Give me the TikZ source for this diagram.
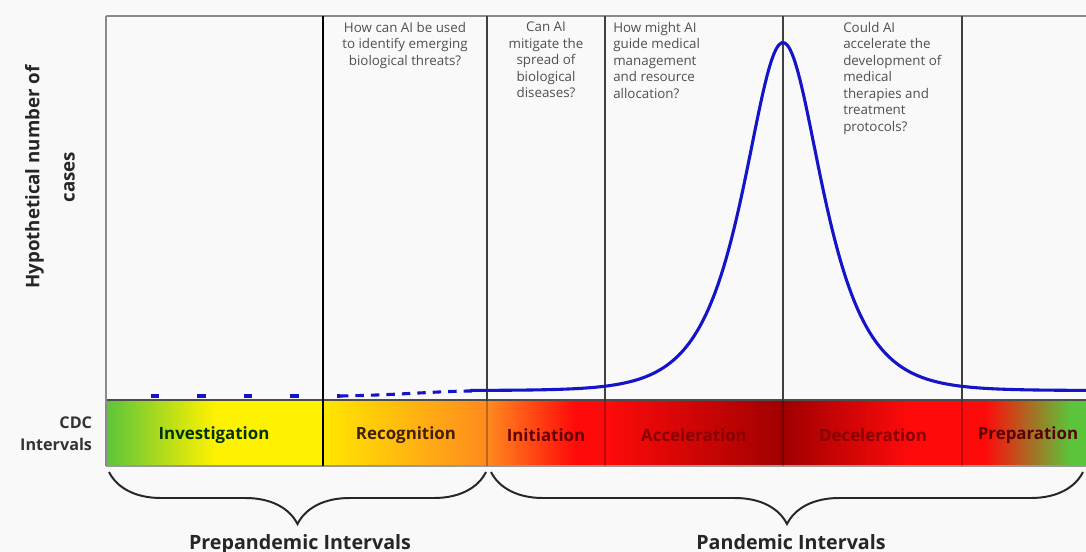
\documentclass[tikz,border=0pt]{standalone}
\usepackage{fontspec}
\setmainfont{Open Sans}
\usetikzlibrary{decorations.pathreplacing}
\definecolor{paper}{HTML}{F9F9F9}
\definecolor{cgreen}{HTML}{5CC43A}
\definecolor{cyellow}{HTML}{FFF200}
\definecolor{corange}{HTML}{FF8A1E}
\definecolor{cred}{HTML}{FF0A0A}
\definecolor{cdark}{HTML}{A00000}
\definecolor{cblue}{HTML}{1414C8}
\definecolor{qgray}{HTML}{505050}
\definecolor{bordergray}{HTML}{8A8A8A}
\tikzset{qtext/.style = {font=\fontsize{9.5}{11.7}\selectfont, text=qgray, inner sep=0}}
\tikzset{bartext/.style = {font=\fontsize{12}{14}\selectfont\bfseries, inner sep=0}}
\tikzset{divider/.style = {line width=1.4pt, draw=black!75}}
\tikzset{curve/.style = {line width=2.2pt, draw=cblue}}
\tikzset{brc/.style = {decorate, decoration={brace, mirror, amplitude=1.3cm},
                       line width=1.4pt, draw=black!85}}
\tikzset{intlabel/.style = {anchor=base, text=black!85, font=\fontsize{14}{16}\selectfont\bfseries}}

\begin{document}
\begin{tikzpicture}[x=0.025cm, y=-0.025cm]
      \useasboundingbox [fill=paper] (0, 0) rectangle (1086, 552);

      \shade [left color=cgreen, right color=cyellow] (106, 400) rectangle (215, 466);
      \fill [cyellow] (215, 400) rectangle (323, 466);
      \shade [left color=cyellow!90!orange, right color=corange] (323, 400) rectangle (487, 466);
      \shade [left color=corange, right color=cred] (487, 400) rectangle (575, 466);
      \fill [cred] (575, 400) rectangle (605, 466);
      \shade [left color=cred, right color=cdark] (605, 400) rectangle (783, 466);
      \shade [left color=cdark, right color=cred] (783, 400) rectangle (910, 466);
      \fill [cred] (910, 400) rectangle (985, 466);
      \shade [left color=cred, right color=cgreen] (985, 400) rectangle (1070, 466);
      \fill [cgreen] (1070, 400) rectangle (1086, 466);

      \draw [black!70, line width=0.8pt] (106, 400) -- (1086, 400);
      \draw [black!40, line width=0.8pt] (106, 466) -- (1086, 466);
      \draw [bordergray, line width=1.5pt] (106, 16) -- (1086, 16);
      \draw [bordergray, line width=1.5pt] (106, 16) -- (106, 466);

      \draw [divider, draw=black] (323, 16) -- (323, 466);
      \draw [divider] (487, 16) -- (487, 400);
      \draw [divider] (605, 16) -- (605, 400);
      \draw [divider] (783, 16) -- (783, 400);
      \draw [divider] (962, 16) -- (962, 400);
      \draw [black, opacity=0.25, line width=0.8pt] (487, 400) -- (487, 466);
      \draw [black, opacity=0.25, line width=0.8pt] (605, 400) -- (605, 466);
      \draw [black, opacity=0.25, line width=0.8pt] (783, 400) -- (783, 466);
      \draw [black, opacity=0.25, line width=0.8pt] (962, 400) -- (962, 466);

      \draw [curve, dash pattern=on 6pt off 27pt] (151, 396) -- (340, 396);
      \draw [curve, dash pattern=on 6pt off 5pt] (340, 396) .. controls (400, 395) and (440, 391) .. (472, 391);
      \draw [curve] plot [domain=470:1086, samples=240, smooth] (\x, {390.5 - 348/cosh((\x-783)/35)});

      \node [qtext, anchor=north, align=center] (qthreat) at (405, 22) {How can AI be used\\to identify emerging\\biological threats?};
      \node [qtext, anchor=north, align=center] (qspread) at (546, 22) {Can AI\\mitigate the\\spread of\\biological\\diseases?};
      \node [qtext, anchor=north west, align=left] (qmanage) at (613, 22) {How might AI\\guide medical\\management\\and resource\\allocation?};
      \node [qtext, anchor=north west, align=left] (qtherapy) at (843, 22) {Could AI\\accelerate the\\development of\\medical\\therapies and\\treatment\\protocols?};

      \node [rotate=90, align=center, text=black!85, font=\fontsize{13.3}{25}\selectfont\bfseries] (ylabel) at (50, 177) {Hypothetical number of\\cases};
      \node [anchor=east, align=right, text=black!80, font=\fontsize{11.5}{15.5}\selectfont\bfseries] (cdc) at (97, 434) {CDC\\Intervals};

      \node [bartext, text=black!80!green] (investigation) at (214, 435) {Investigation};
      \node [bartext, text=black!75!orange] (recognition) at (406, 435) {Recognition};
      \node [bartext, text=black!60!red] (initiation) at (546, 435) {Initiation};
      \node [bartext, text=cdark!85!black] (acceleration) at (694, 435) {Acceleration};
      \node [bartext, text=cdark!85!black] (deceleration) at (873, 435) {Deceleration};
      \node [bartext, text=black!65!red] (preparation) at (1028, 435) {Preparation};

      \coordinate (preL) at (109, 472);
      \coordinate (preR) at (486, 472);
      \coordinate (panL) at (491, 472);
      \coordinate (panR) at (1083, 472);
      \draw [brc] (preL) -- (preR);
      \draw [brc] (panL) -- (panR);

      \node [intlabel] (prelabel) at (300, 549) {Prepandemic Intervals};
      \node [intlabel] (panlabel) at (791, 549) {Pandemic Intervals};
\end{tikzpicture}
\end{document}
